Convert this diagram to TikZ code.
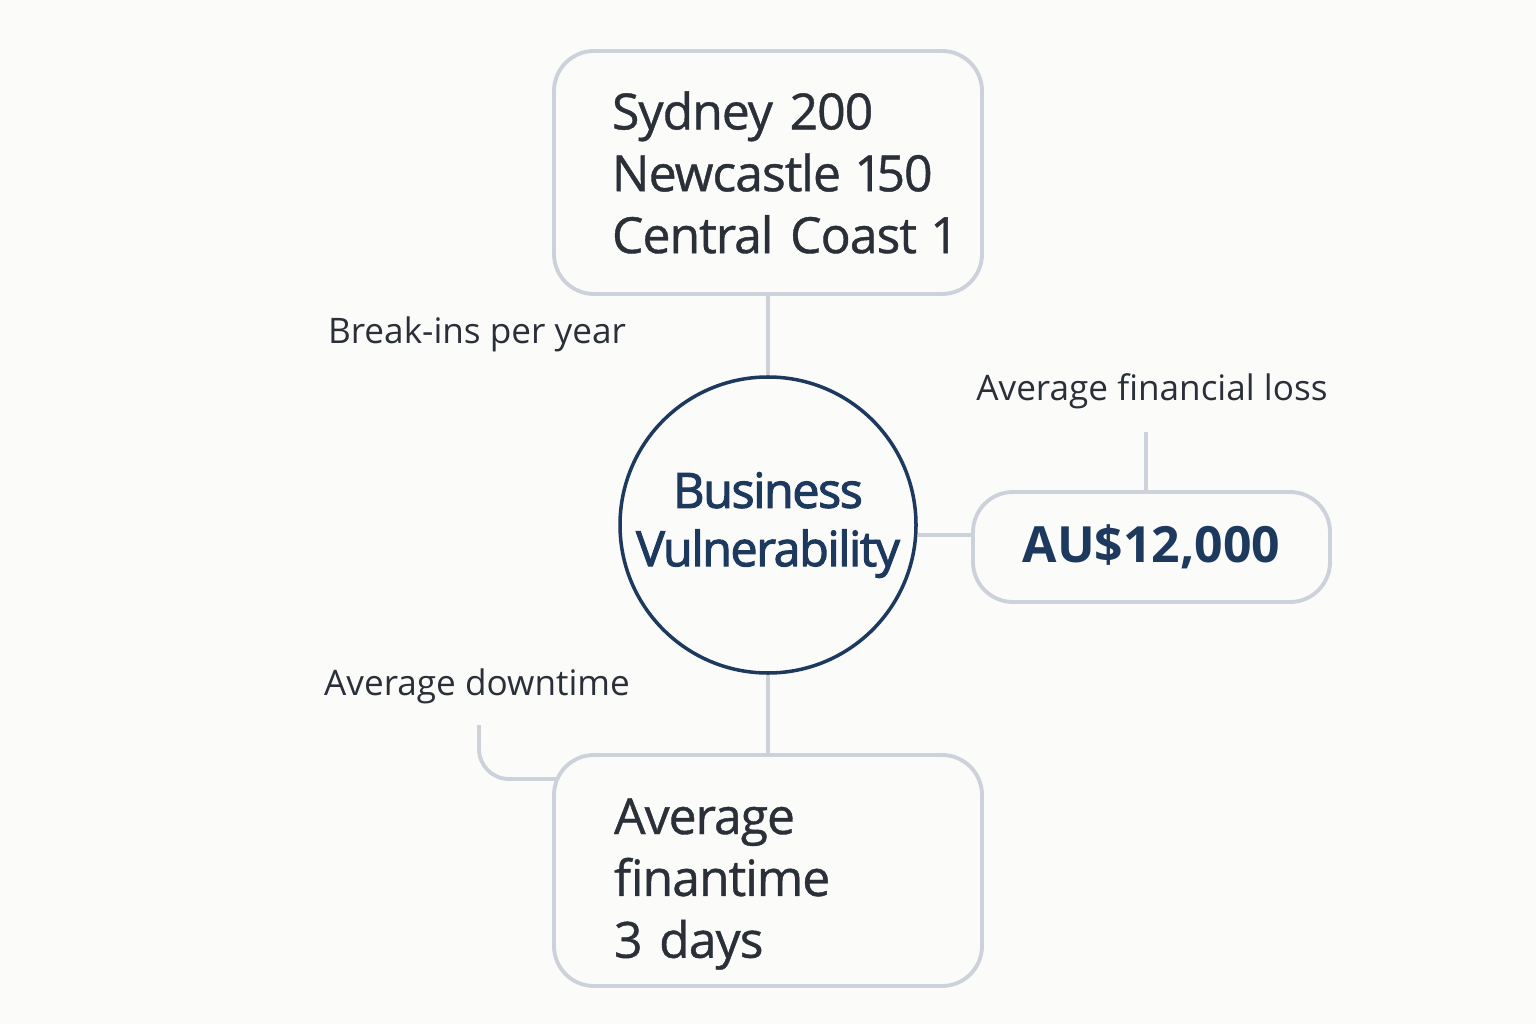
\documentclass[tikz,border=0pt]{standalone}
\usepackage{fontspec}
\setmainfont{Open Sans}
\newfontfamily\semifont{Open Sans}[FakeBold=2.2, LetterSpace=-3]
\newfontfamily\midfont{Open Sans}[FakeBold=0.8, LetterSpace=-2, WordSpace=0.55, Numbers=Proportional]
\definecolor{bgpaper}{HTML}{FBFBFA}
\definecolor{boxline}{HTML}{CDD2DA}
\definecolor{inkdark}{HTML}{2A2F38}
\definecolor{navy}{HTML}{1D3A5E}
\newcommand{\bigfont}{\fontsize{14.2}{17.6}\selectfont}
\newcommand{\smallfont}{\fontsize{10}{12.5}\selectfont}

\begin{document}
\begin{tikzpicture}[
  box/.style={draw=boxline, line width=1.1pt, rounded corners=0.4cm},
  link/.style={draw=boxline, line width=1.1pt},
  tag/.style={text=inkdark, font=\smallfont}]
\fill[bgpaper] (0,0) rectangle (15.36,10.24);
\useasboundingbox (0,0) rectangle (15.36,10.24);

\node[box, text=inkdark, font=\midfont\bigfont, align=left, text width=3.12cm,
  inner xsep=0.58cm, minimum height=2.43cm] at (7.68,8.515) (cities)
  {Sydney~200\\Newcastle~150\\Central~Coast~1};
\node[draw=navy, line width=1pt, circle, minimum size=2.96cm, inner sep=0pt]
  at (7.68,4.99) (vuln) {};
\node[text=navy, font=\semifont\fontsize{13.8}{16.6}\selectfont, align=center]
  at (7.68,4.99) (vulntext) {Business\\Vulnerability};
\node[box, text=navy, font=\bigfont\bfseries, minimum width=3.57cm,
  minimum height=1.10cm] at (11.515,4.77) (loss) {AU\$12,000};
\node[box, minimum width=4.28cm, minimum height=2.31cm] at (7.68,1.535) (down) {};
\node[text=inkdark, font=\midfont\bigfont, align=left, text width=3.12cm,
  inner sep=0pt] at (7.70,1.40) (downtext) {Average\\finantime\\3~days};

\node[tag] at (4.77,6.90) (breakins) {Break-ins per year};
\node[tag] at (11.52,6.33) (losstag) {Average financial loss};
\node[tag] at (4.77,3.38) (downtag) {Average downtime};

%connectors
\draw[link] (cities) -- (vuln);
\draw[link] (vuln) -- (down);
\draw[link] ([yshift=-0.1cm]vuln.east) -- ([yshift=-0.1cm]vuln.east -| loss.west);
\coordinate (losstop) at (11.46,5.92);
\draw[link] (losstop) -- (losstop |- loss.north);
\coordinate (downend) at (4.79,2.99);
\draw[link, rounded corners=0.3cm] (downend) |- (5.56,2.45);
\end{tikzpicture}
\end{document}
